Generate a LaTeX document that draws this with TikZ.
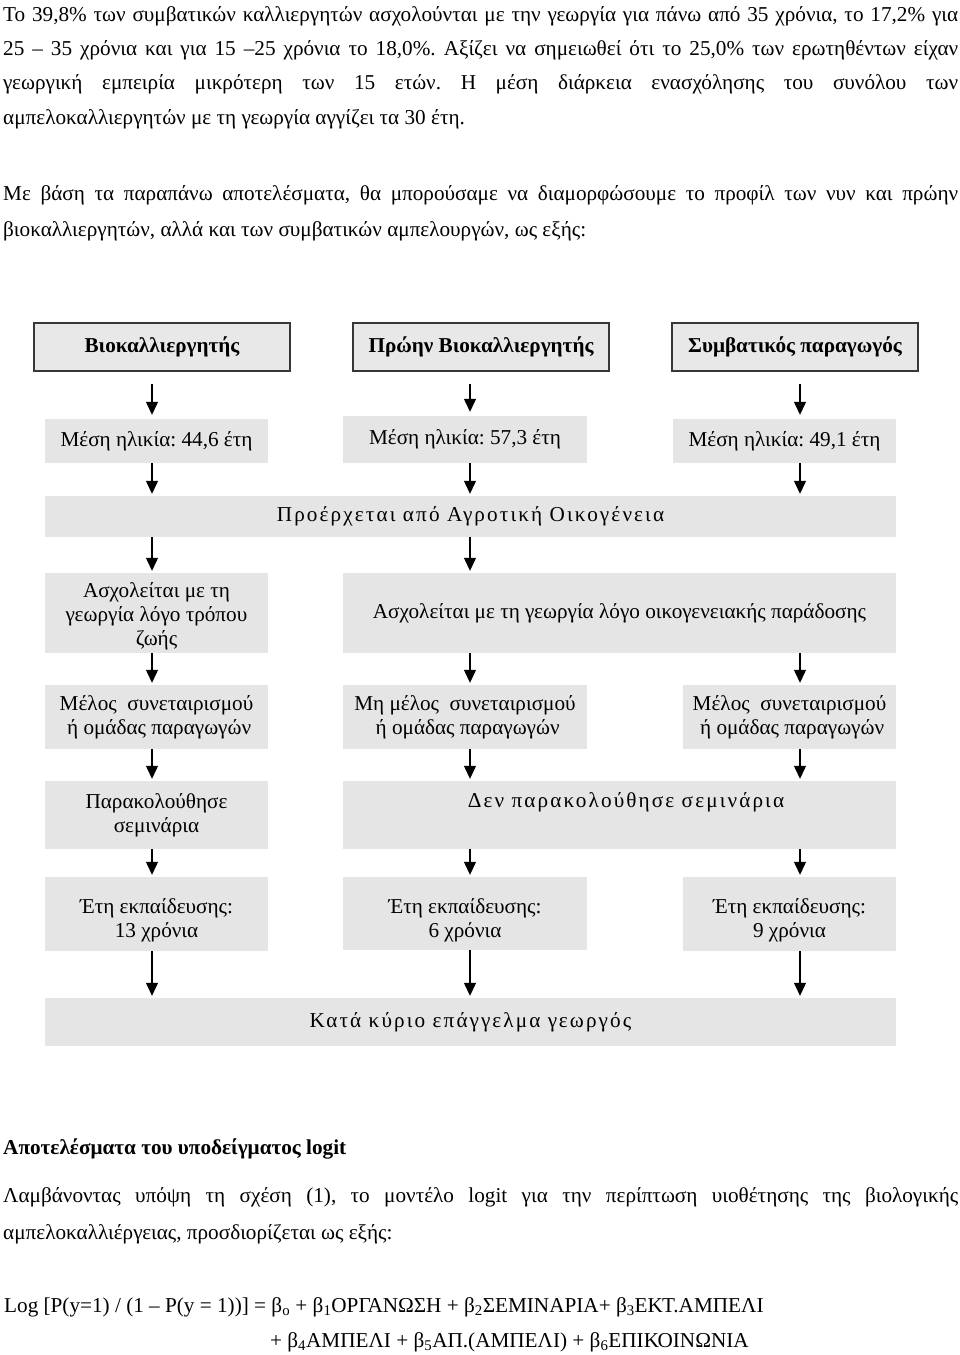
\documentclass[tikz,border=0pt]{standalone}
\usepackage{fontspec}
\setmainfont{Liberation Serif}
\newfontfamily\spacedfont[LetterSpace=10]{Liberation Serif}
\usetikzlibrary{arrows.meta}
\definecolor{boxfill}{RGB}{229,229,229}
\definecolor{hdrfill}{RGB}{232,232,232}
\definecolor{hdrline}{RGB}{55,55,55}
\frenchspacing
\begin{document}
\begin{tikzpicture}[x=1pt,y=-1pt,
  font=\fontsize{21.2}{24}\selectfont,
  box/.style={fill=boxfill, draw=none, inner sep=0pt, align=center},
  hdr/.style={fill=hdrfill, draw=hdrline, line width=1.4pt, inner sep=0pt,
    font=\fontsize{21.2}{24}\selectfont\bfseries},
  arr/.style={line width=1.2pt, -{Triangle[width=12pt,length=13pt]}, shorten >=2pt},
  harr/.style={arr, shorten <=12pt, shorten >=4pt},
  ptext/.style={anchor=base west, inner sep=0pt, font=\fontsize{21.2}{24}\selectfont},
  sp/.style={font=\spacedfont\fontsize{21.2}{24}\selectfont}]
\useasboundingbox (0,0) rectangle (960,1355);
\fill[white] (0,0) rectangle (960,1355);

% paragraphs
\node[ptext] (p1) at (3,21) {\makebox[955pt][s]{Το 39,8\% των συμβατικών καλλιεργητών ασχολούνται με την γεωργία για πάνω από 35 χρόνια, το 17,2\% για}};
\node[ptext] (p2) at (3,55) {\makebox[955pt][s]{25 – 35 χρόνια και για 15 –25 χρόνια το 18,0\%. Αξίζει να σημειωθεί ότι το 25,0\% των ερωτηθέντων είχαν}};
\node[ptext] (p3) at (3,89) {\makebox[955pt][s]{γεωργική εμπειρία μικρότερη των 15 ετών. Η μέση διάρκεια ενασχόλησης του συνόλου των}};
\node[ptext] (p4) at (3,124) {αμπελοκαλλιεργητών με τη γεωργία αγγίζει τα 30 έτη.};
\node[ptext] (q1) at (3,200) {\makebox[955pt][s]{Με βάση τα παραπάνω αποτελέσματα, θα μπορούσαμε να διαμορφώσουμε το προφίλ των νυν και πρώην}};
\node[ptext] (q2) at (3,236) {βιοκαλλιεργητών, αλλά και των συμβατικών αμπελουργών, ως εξής:};

% columns
\coordinate (c1) at (152,0);
\coordinate (c2) at (470,0);
\coordinate (c3) at (800,0);

% headers
\node[hdr, minimum width=256pt, minimum height=48pt] (h1) at (162,347) {Βιοκαλλιεργητής};
\node[hdr, minimum width=256pt, minimum height=48pt] (h2) at (481,347) {Πρώην Βιοκαλλιεργητής};
\node[hdr, minimum width=246pt, minimum height=48pt] (h3) at (795,347) {Συμβατικός παραγωγός};

% ages
\node[box, minimum width=223pt, minimum height=44pt] (m1) at (156.5,441) {Μέση ηλικία: 44,6 έτη};
\node[box, minimum width=244pt, minimum height=47pt] (m2) at (465,439.5) {Μέση ηλικία: 57,3 έτη};
\node[box, minimum width=223pt, minimum height=44pt] (m3) at (784.5,441) {Μέση ηλικία: 49,1 έτη};

% family
\node[box, sp, minimum width=851pt, minimum height=41pt] (f) at (470.5,516.5) {Προέρχεται από Αγροτική Οικογένεια};

% reasons
\node[box, minimum width=223pt, minimum height=80pt] (a1) at (156.5,613) {\rule{0pt}{22pt}Ασχολείται με τη\\γεωργία λόγο τρόπου\\ζωής};
\node[box, minimum width=553pt, minimum height=80pt] (a2) at (619.5,613) {Ασχολείται με τη γεωργία λόγο οικογενειακής παράδοσης};

% membership
\node[box, minimum width=223pt, minimum height=64pt] (g1) at (156.5,717) {Μέλος\ \ συνεταιρισμού\\\ ή ομάδας παραγωγών};
\node[box, minimum width=244pt, minimum height=64pt] (g2) at (465,717) {Μη μέλος\ \ συνεταιρισμού\\\ ή ομάδας παραγωγών};
\node[box, minimum width=213pt, minimum height=64pt] (g3) at (789.5,717) {Μέλος\ \ συνεταιρισμού\\\ ή ομάδας παραγωγών};

% seminars
\node[box, minimum width=223pt, minimum height=68pt] (s1) at (156.5,815) {Παρακολούθησε\\σεμινάρια};
\node[box, minimum width=553pt, minimum height=68pt] (s2) at (619.5,815) {};
\node[inner sep=0pt, sp] (s2t) at (626,802) {Δεν παρακολούθησε σεμινάρια};

% education
\node[box, minimum width=223pt, minimum height=74pt] (e1) at (156.5,914) {\rule{0pt}{28pt}Έτη εκπαίδευσης:\\13 χρόνια};
\node[box, minimum width=244pt, minimum height=73pt] (e2) at (465,913.5) {\rule{0pt}{28pt}Έτη εκπαίδευσης:\\6 χρόνια};
\node[box, minimum width=213pt, minimum height=74pt] (e3) at (789.5,914) {\rule{0pt}{28pt}Έτη εκπαίδευσης:\\9 χρόνια};

% main occupation
\node[box, sp, minimum width=851pt, minimum height=48pt] (k) at (470.5,1022) {Κατά κύριο επάγγελμα γεωργός};

% arrows
\draw[harr] (h1.south -| c1) -- (m1.north -| c1);
\draw[harr] (h2.south -| c2) -- (m2.north -| c2);
\draw[harr] (h3.south -| c3) -- (m3.north -| c3);
\draw[arr] (m1.south -| c1) -- (f.north -| c1);
\draw[arr] (m2.south -| c2) -- (f.north -| c2);
\draw[arr] (m3.south -| c3) -- (f.north -| c3);
\draw[arr] (f.south -| c1) -- (a1.north -| c1);
\draw[arr] (f.south -| c2) -- (a2.north -| c2);
\draw[arr] (a1.south -| c1) -- (g1.north -| c1);
\draw[arr] (a2.south -| c2) -- (g2.north -| c2);
\draw[arr] (a2.south -| c3) -- (g3.north -| c3);
\draw[arr] (g1.south -| c1) -- (s1.north -| c1);
\draw[arr] (g2.south -| c2) -- (s2.north -| c2);
\draw[arr] (g3.south -| c3) -- (s2.north -| c3);
\draw[arr] (s1.south -| c1) -- (e1.north -| c1);
\draw[arr] (s2.south -| c2) -- (e2.north -| c2);
\draw[arr] (s2.south -| c3) -- (e3.north -| c3);
\draw[arr] (e1.south -| c1) -- (k.north -| c1);
\draw[arr] (e2.south -| c2) -- (k.north -| c2);
\draw[arr] (e3.south -| c3) -- (k.north -| c3);

% bottom text
\node[ptext, font=\fontsize{21.2}{24}\selectfont\bfseries] (r0) at (3,1154) {Αποτελέσματα του υποδείγματος logit};
\node[ptext] (r1) at (3,1202) {\makebox[955pt][s]{Λαμβάνοντας υπόψη τη σχέση (1), το μοντέλο logit για την περίπτωση υιοθέτησης της βιολογικής}};
\node[ptext] (r2) at (3,1239) {αμπελοκαλλιέργειας, προσδιορίζεται ως εξής:};
\node[ptext] (eq1) at (4,1312) {Log [P(y=1) / (1 – P(y = 1))] = β\textsubscript{o} + β\textsubscript{1}ΟΡΓΑΝΩΣΗ + β\textsubscript{2}ΣΕΜΙΝΑΡΙΑ+ β\textsubscript{3}ΕΚΤ.ΑΜΠΕΛΙ};
\node[ptext] (eq2) at (270,1347) {+ β\textsubscript{4}ΑΜΠΕΛΙ + β\textsubscript{5}ΑΠ.(ΑΜΠΕΛΙ) + β\textsubscript{6}ΕΠΙΚΟΙΝΩΝΙΑ};
\end{tikzpicture}
\end{document}
